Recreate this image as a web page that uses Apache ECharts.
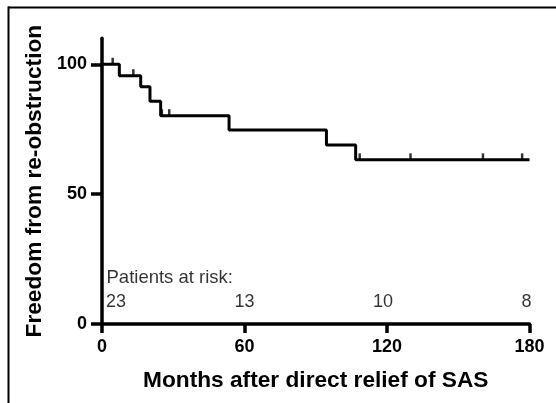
<!DOCTYPE html>
<html>
<head>
<meta charset="utf-8">
<script src="https://cdn.jsdelivr.net/npm/echarts@6/dist/echarts.min.js"></script>
<style>
html,body{margin:0;padding:0;background:#fff;}
#chart{width:556px;height:403px;}
</style>
</head>
<body>
<div id="chart"></div>
<script>
// Kaplan-Meier step curve (months, % freedom from re-obstruction)
var eventMonths = [0, 7.3, 16.3, 20.2, 24.7, 53.5, 94.5, 106.8, 180];
var survival    = [100, 95.6, 91.3, 85.8, 80.2, 74.7, 68.9, 63.2, 63.2];
// Censored observations
var censorMonths = [4.5, 13.2, 25.2, 28.3, 108.5, 129.9, 160.4, 176.9];
var censorValues = [100, 95.6, 80.2, 80.2, 63.2, 63.2, 63.2, 63.2];
// Patients at risk
var riskMonths = [0, 60, 120, 180];
var riskCounts = [23, 13, 10, 8];
var riskLabelY = 8.6;
var riskTitleY = 17.6;
var riskTitle = 'Patients at risk:';
// Axis ticks
var xTicks = [0, 60, 120, 180];
var yTicks = [0, 50, 100];

var FONT = 'Liberation Sans, Arial, sans-serif';

var kmData = eventMonths.map(function (m, i) { return [m, survival[i]]; });
var censorData = censorMonths.map(function (m, i) { return [m, censorValues[i]]; });
var riskAligns = ['left', 'center', 'center', 'right'];
var riskOffsets = [[4, 0], [0, 0], [-4, 0], [2, 0]];
var riskData = riskMonths.map(function (m, i) {
  return {
    value: [m, riskLabelY],
    label: { align: riskAligns[i], offset: riskOffsets[i], formatter: String(riskCounts[i]) }
  };
});

var chart = echarts.init(document.getElementById('chart'), null, { renderer: 'canvas' });
chart.setOption({
  animation: false,
  backgroundColor: '#fff',
  grid: { left: 102, right: 26.5, top: 38.3, bottom: 79, containLabel: false },
  xAxis: {
    type: 'value', min: 0, max: 180, interval: 60,
    name: 'Months after direct relief of SAS',
    nameLocation: 'middle', nameGap: 45,
    nameTextStyle: { fontFamily: FONT, fontWeight: 'bold', fontSize: 22.7, color: '#000' },
    axisLine: { show: true, lineStyle: { color: '#000', width: 3.5 } },
    axisTick: { show: true, length: 9, lineStyle: { color: '#000', width: 3.5 }, customValues: xTicks },
    axisLabel: { fontFamily: FONT, fontWeight: 'bold', fontSize: 18, color: '#000', margin: 14, customValues: xTicks },
    splitLine: { show: false }
  },
  yAxis: {
    type: 'value', min: 0, max: 110,
    name: 'Freedom from re-obstruction',
    nameLocation: 'middle', nameGap: 56,
    nameTextStyle: { fontFamily: FONT, fontWeight: 'bold', fontSize: 22.7, color: '#000' },
    axisLine: { show: true, lineStyle: { color: '#000', width: 3.5 } },
    axisTick: { show: true, length: 11, lineStyle: { color: '#000', width: 3.5 }, customValues: yTicks },
    axisLabel: { fontFamily: FONT, fontWeight: 'bold', fontSize: 18, color: '#000', margin: 15, customValues: yTicks },
    splitLine: { show: false }
  },
  series: [
    {
      type: 'line', data: kmData, step: 'end', showSymbol: false,
      lineStyle: { color: '#000', width: 3 }, z: 3
    },
    {
      type: 'scatter', data: censorData, symbol: 'rect', symbolSize: [2.5, 6.5], symbolOffset: [0, -3.25],
      itemStyle: { color: '#000' }, z: 4
    },
    {
      type: 'scatter', data: riskData, symbolSize: 0,
      label: { show: true, position: 'inside', fontFamily: FONT, fontSize: 18, color: '#000', verticalAlign: 'middle' },
      z: 5
    },
    {
      type: 'scatter', data: [[0, riskTitleY]], symbolSize: 0,
      label: { show: true, position: 'inside', align: 'left', offset: [4.5, 0], verticalAlign: 'middle',
               formatter: riskTitle, fontFamily: FONT, fontSize: 18.5, color: '#000' },
      z: 5
    }
  ],
  graphic: [
    { type: 'line', shape: { x1: 8, y1: 7.5, x2: 556, y2: 7.5 }, style: { stroke: '#000', lineWidth: 2 } },
    { type: 'line', shape: { x1: 8.5, y1: 6.5, x2: 8.5, y2: 403 }, style: { stroke: '#000', lineWidth: 2 } }
  ]
});
</script>
</body>
</html>
